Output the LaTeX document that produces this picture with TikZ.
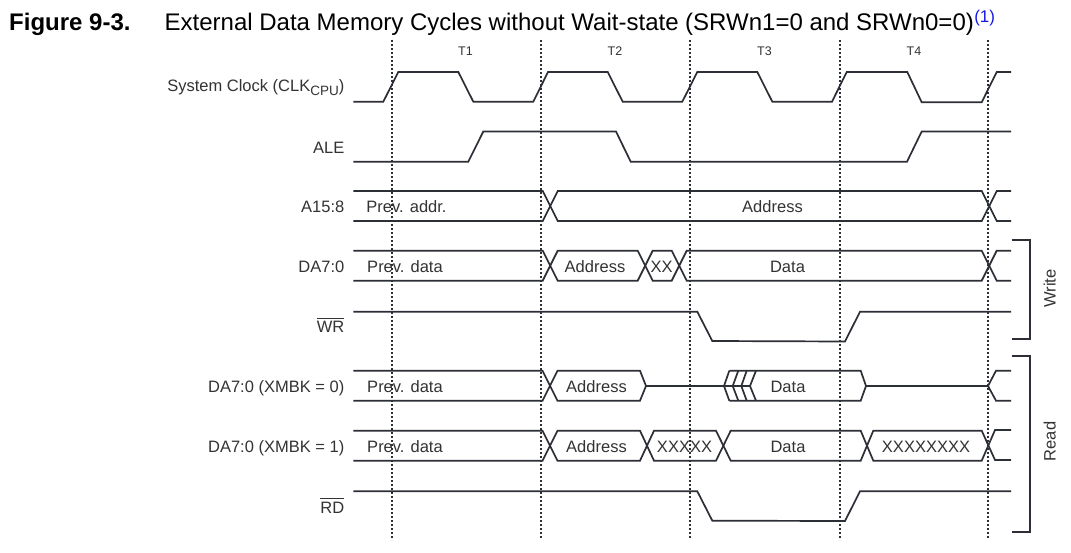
\documentclass[tikz,border=0pt]{standalone}
\usepackage{fontspec}
\setmainfont{Liberation Sans}
\definecolor{ink}{HTML}{2D2F36}
\definecolor{txt}{HTML}{333333}
\definecolor{refblue}{HTML}{1A1AE6}
\newcommand{\barred}[1]{\vbox{\hrule height 1.1pt\kern 2.4pt\hbox{#1}}}
\tikzset{
  wave/.style={draw=ink,line width=1.7pt,line join=miter},
  guide/.style={draw=ink,line width=1.6pt,dash pattern=on 1.8pt off 2.2pt},
  bracket/.style={draw=ink,line width=1.7pt},
  siglabel/.style={anchor=base east,text=txt,font=\fontsize{16.5}{19}\selectfont,inner sep=0pt},
  cell/.style={anchor=base,text=txt,font=\fontsize{16.5}{19}\selectfont,inner sep=0pt},
  tick/.style={anchor=base,text=txt,font=\fontsize{12.5}{14}\selectfont,inner sep=0pt},
  grouplabel/.style={rotate=90,anchor=base,text=txt,font=\fontsize{16.5}{19}\selectfont,inner sep=0pt},
}
\begin{document}
\begin{tikzpicture}[x=1pt,y=-1pt]
\useasboundingbox[fill=white] (0,0) rectangle (1071,553);
% title
\node[anchor=base west,inner sep=0pt,font=\fontsize{24}{27}\bfseries\selectfont] (fig) at (9,30.7) {Figure 9-3.};
\node[anchor=base west,inner sep=0pt,font=\fontsize{24}{27}\selectfont] (title) at (164.5,30.7) {External Data Memory Cycles without Wait-state (SRWn1=0 and SRWn0=0)};
\node[anchor=base west,inner sep=0pt,text=refblue,font=\fontsize{17}{19}\selectfont] (note) at (title.base east) [yshift=8pt] {(1)};
% guides
\foreach \x/\n in {392/a,541/b,690/c,840/d,988/e}
  \draw[guide] (\x,40) -- (\x,538);
% tick labels
\node[tick] (t1) at (465.5,56) {T1};
\node[tick] (t2) at (615,56) {T2};
\node[tick] (t3) at (764.5,56) {T3};
\node[tick] (t4) at (914,56) {T4};
% signal labels
\node[siglabel] (lclk) at (344.5,91.7) {System Clock (CLK\raisebox{-4pt}{\fontsize{13.5}{15}\selectfont CPU})};
\node[siglabel] (lale) at (344.5,153.7) {ALE};
\node[siglabel] (la) at (344.5,212.7) {A15:8};
\node[siglabel] (lda) at (344.5,272.7) {DA7:0};
\node[siglabel] (lwr) at (344.5,332.7) {\barred{WR}};
\node[siglabel] (ld0) at (344.5,392.7) {DA7:0 (XMBK = 0)};
\node[siglabel] (ld1) at (344.5,452.7) {DA7:0 (XMBK = 1)};
\node[siglabel] (lrd) at (344.5,513.2) {\barred{RD}};
% clock
\draw[wave] (353.3,101.7) -- (383.3,101.7) -- (398.3,72) -- (458.3,72) -- (473.3,101.7) -- (533.3,101.7) -- (548,72) -- (607.7,72) -- (622.7,101.7) -- (682.3,101.7) -- (697.3,72) -- (757.3,72) -- (772.3,101.7) -- (832,101.7) -- (846.7,72) -- (907.3,72) -- (921.7,102.3) -- (981.7,102.3) -- (996.7,72) -- (1011,72);
% ALE
\draw[wave] (353.3,161.7) -- (468.3,161.7) -- (483.3,131.5) -- (616,131.5) -- (630.7,161.7) -- (907,161.7) -- (921.7,131.5) -- (1011,131.5);
% A15:8
\draw[wave] (353.3,191) -- (542.7,191) -- (557.7,221) -- (981.7,221) -- (996.7,191) -- (1011,191);
\draw[wave] (353.3,221) -- (542.7,221) -- (557.7,191) -- (981.7,191) -- (996.7,221) -- (1011,221);
\node[cell] (pa) at (406.5,212.2) {Prev. addr.};
\node[cell] (aa) at (772.5,212.2) {Address};
% DA write
\draw[wave] (353.3,250.7) -- (542.7,250.7) -- (557.7,280.7) -- (637.7,280.7) -- (652.7,250.7) -- (671.7,250.7) -- (686.7,280.7) -- (981.7,280.7) -- (996.7,250.7) -- (1011,250.7);
\draw[wave] (353.3,280.7) -- (542.7,280.7) -- (557.7,250.7) -- (637.7,250.7) -- (652.7,280.7) -- (671.7,280.7) -- (686.7,250.7) -- (981.7,250.7) -- (996.7,280.7) -- (1011,280.7);
\node[cell] (pd) at (405,272.2) {Prev. data};
\node[cell] (ad) at (595,272.2) {Address};
\node[cell] (xd) at (661.5,272.2) {XX};
\node[cell] (dd) at (787.5,272.2) {Data};
% WR
\draw[wave] (353.3,311.7) -- (697.3,311.7) -- (712.3,341) -- (845,341.5) -- (860,311.7) -- (1011,311.7);
% DA read 0
\draw[wave] (353.3,370.7) -- (542.5,370.7) -- (557.5,400.7) -- (640,400.7) -- (646,386) -- (724,386);
\draw[wave] (353.3,400.7) -- (542.5,400.7) -- (557.5,370.7) -- (640,370.7) -- (646,386);
\draw[wave] (729.3,370.7) -- (860.7,370.7) -- (866,386) -- (988,386) -- (996,370.7) -- (1011,370.7);
\draw[wave] (729.3,400.7) -- (860.7,400.7) -- (866,386);
\draw[wave] (988,386) -- (996,400.7) -- (1011,400.7);
\foreach \t/\s in {724/729.3,732.7/738.3,741.3/746.7,750/756}
  \draw[wave] (\s,370.7) -- (\t,386) -- (\s,400.7);
\draw[wave] (724,386) -- (750,386);
\node[cell] (pd0) at (405,392.2) {Prev. data};
\node[cell] (ad0) at (596.5,392.2) {Address};
\node[cell] (dd0) at (788,392.2) {Data};
% DA read 1
\draw[wave] (353.3,430.7) -- (542.5,430.7) -- (557.5,460.7) -- (640,460.7) -- (654,430.7) -- (716,430.7) -- (730.7,460.7) -- (860.7,460.7) -- (873.3,430.7) -- (981.7,430.7) -- (995,460) -- (1011,460);
\draw[wave] (353.3,460.7) -- (542.5,460.7) -- (557.5,430.7) -- (640,430.7) -- (654,460.7) -- (716,460.7) -- (730.7,430.7) -- (860.7,430.7) -- (873.3,460.7) -- (981.7,460.7) -- (995,430) -- (1011,430);
\node[cell] (pd1) at (405,452.2) {Prev. data};
\node[cell] (ad1) at (596.5,452.2) {Address};
\node[cell] (xd1) at (684.5,452.2) {XXXXX};
\node[cell] (dd1) at (788,452.2) {Data};
\node[cell] (yd1) at (926,452.2) {XXXXXXXX};
% RD
\draw[wave] (353.3,491.3) -- (697.3,491.3) -- (712.3,520.7) -- (845,521) -- (860,491.3) -- (1011,491.3);
% brackets
\draw[bracket] (1011.7,240) -- (1030,240) -- (1030,338.7) -- (1011.7,338.7);
\draw[bracket] (1011.7,355.7) -- (1030,355.7) -- (1030,532) -- (1011.7,532);
\node[grouplabel] (gw) at (1055.5,288.5) {Write};
\node[grouplabel] (gr) at (1055.5,441.5) {Read};
\end{tikzpicture}
\end{document}
